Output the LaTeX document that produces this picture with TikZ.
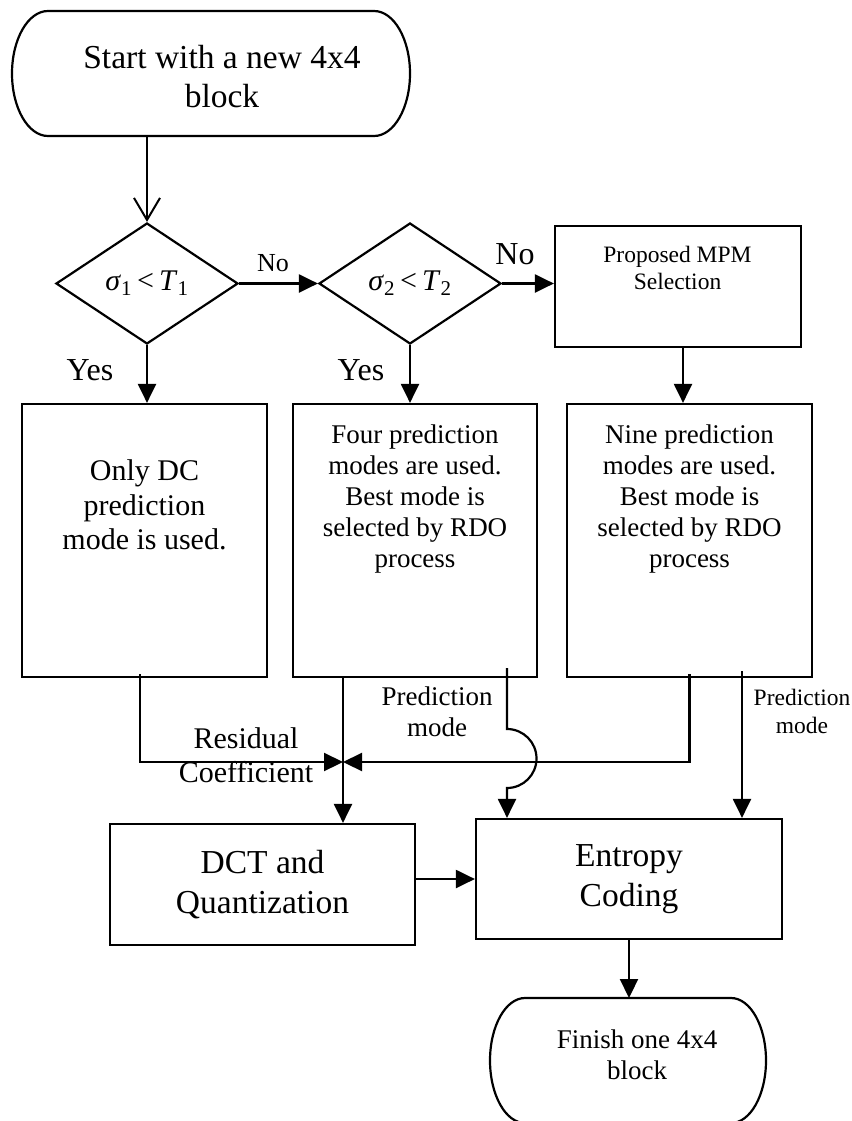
\documentclass[tikz,border=0pt]{standalone}
\usepackage{fontspec}
\setmainfont{Liberation Serif}
\usetikzlibrary{shapes,arrows.meta,positioning,calc}

\newcommand{\bigtxt}{\fontsize{33.5}{39.5}\selectfont}
\newcommand{\yestxt}{\fontsize{32}{38}\selectfont}
\newcommand{\midtxt}{\fontsize{30}{34.5}\selectfont}
\newcommand{\smalltxt}{\fontsize{27}{31}\selectfont}
\newcommand{\notxt}{\fontsize{26}{31}\selectfont}
\newcommand{\tinytxt}{\fontsize{23.5}{26.5}\selectfont}

\tikzset{
  box/.style={draw, rectangle, line width=2.2pt, inner sep=0pt},
  dec/.style={draw, diamond, line width=2.2pt, inner sep=0pt,
    minimum width=182pt, minimum height=121pt},
  term/.style={draw=none, rectangle, inner sep=0pt, outer sep=0pt},
  txt/.style={align=center, inner sep=0pt},
  ln/.style={line width=2.2pt},
  arr/.style={line width=2.2pt, -{Triangle[length=19pt,width=18pt]}},
  open/.style={line width=2pt, -{Straight Barb[length=22pt,width=26pt]}},
}

\begin{document}
\begin{tikzpicture}[x=1pt,y=-1pt]
      \useasboundingbox (0,0) rectangle (851,1121);

      % start / finish (outlines drawn further down)
      \node[term, minimum width=398pt, minimum height=125pt] (start) at (211,73.5) {};
      \node[term, minimum width=276pt, minimum height=125pt] (fin) at (628,1060.5) {};
      \node[txt, font=\bigtxt] (starttxt) at (222,76.5) {Start with a new 4x4\\block};
      \node[txt, font=\smalltxt] (fintxt) at (637,1055) {Finish one 4x4\\block};

      % decisions
      \node[dec, font=\midtxt] (d1) at (147,283.5) {\textit{σ}\textsubscript{1}\,<\,\textit{T}\textsubscript{1}};
      \node[dec, font=\midtxt] (d2) at (410,283.5) {\textit{σ}\textsubscript{2}\,<\,\textit{T}\textsubscript{2}};

      % boxes
      \node[box, minimum width=246pt, minimum height=121pt] (mpm) at (678,286.5) {};
      \node[box, minimum width=245pt, minimum height=273pt] (dc) at (144.5,540.5) {};
      \node[box, minimum width=244pt, minimum height=273pt] (four) at (415,540.5) {};
      \node[box, minimum width=245pt, minimum height=273pt] (nine) at (689.5,540.5) {};
      \node[box, minimum width=305pt, minimum height=121pt, align=center, font=\bigtxt] (dct) at (262.5,884.5) {DCT and\\Quantization};
      \node[box, minimum width=306pt, minimum height=120pt, align=center, font=\bigtxt] (ent) at (629,879) {Entropy\\Coding};

      \node[txt, font=\tinytxt] (mpmtxt) at (677.5,268) {Proposed MPM\\Selection};
      \node[txt, font=\midtxt] (dctxt) at (144.5,505) {Only DC\\prediction\\mode is used.};
      \node[txt, font=\smalltxt] (fourtxt) at (415,499) {Four prediction\\modes are used.\\Best mode is\\selected by RDO\\process};
      \node[txt, font=\smalltxt] (ninetxt) at (689.5,499) {Nine prediction\\modes are used.\\Best mode is\\selected by RDO\\process};

      % labels
      \node[txt, font=\notxt] (no1) at (273,263) {No};
      \node[txt, font=\yestxt] (no2) at (515,254) {No};
      \node[txt, font=\yestxt] (yes1) at (90,370) {Yes};
      \node[txt, font=\yestxt] (yes2) at (361,370) {Yes};
      \node[txt, font=\midtxt] (res) at (246,755) {Residual\\Coefficient};
      \node[txt, font=\smalltxt] (pm1) at (437,712) {Prediction\\mode};
      \node[txt, font=\fontsize{23.5}{28}\selectfont] (pm2) at (802,711) {Prediction\\mode};

      \draw[ln] ([xshift=36pt]start.north west) -- ([xshift=-36pt]start.north east)
        arc[start angle=90, end angle=-90, x radius=36pt, y radius=62.5pt]
        -- ([xshift=36pt]start.south west)
        arc[start angle=270, end angle=90, x radius=36pt, y radius=62.5pt] -- cycle;
      \draw[ln] ([xshift=35pt]fin.north west) -- ([xshift=-35pt]fin.north east)
        arc[start angle=90, end angle=-90, x radius=35pt, y radius=62.5pt]
        -- ([xshift=35pt]fin.south west)
        arc[start angle=270, end angle=90, x radius=35pt, y radius=62.5pt] -- cycle;

      \coordinate (m3) at ([xshift=5pt]mpm.south);
      \coordinate (c1) at ([xshift=-4.5pt,yshift=4pt]dc.south);
      \coordinate (c2) at ([xshift=-72pt]four.south);
      \coordinate (c3) at ([xshift=92pt,yshift=10pt]four.south);
      \coordinate (c4) at ([yshift=4pt]nine.south);
      \coordinate (c5) at ([xshift=52.5pt,yshift=7pt]nine.south);
      \coordinate (jn) at (343,762);
      \coordinate (hop) at (507,729);

      \draw[open] (start.south -| d1.north) -- (d1.north);
      \draw[arr] (d1.east) -- (d2.west);
      \draw[arr] (d2.east) -- (d2.east -| mpm.west);
      \draw[arr] (d1.south) -- (d1.south |- dc.north);
      \draw[arr] (d2.south) -- (d2.south |- four.north);
      \draw[arr] (m3) -- (m3 |- nine.north);

      \draw[arr] (c1) |- (jn);
      \draw[arr] (c4) |- (jn);
      \draw[arr] (c2) -- (c2 |- dct.north);
      \draw[arr] (c3) -- (hop) arc[start angle=90, end angle=-90, radius=29.5pt] -- (c3 |- ent.north);
      \draw[arr] (c5) -- (c5 |- ent.north);
      \draw[arr] (dct.east |- ent.west) -- (ent.west);
      \draw[arr] (ent.south) -- (ent.south |- fin.north);

\end{tikzpicture}
\end{document}
